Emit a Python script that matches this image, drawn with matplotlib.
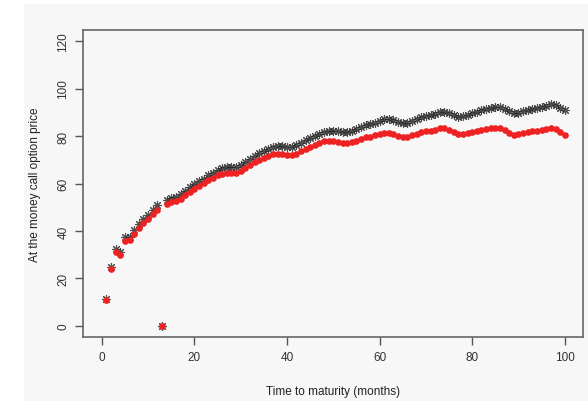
import matplotlib
matplotlib.use("Agg")
import matplotlib.pyplot as plt
from matplotlib.patches import Rectangle

months = list(range(1, 101))

# black asterisks (upper series)
price_black = [11.5, 25.0, 32.3, 31.2, 37.3, 37.5, 40.5, 42.9, 45.0, 46.9,
               48.9, 50.9, 0.0, 53.2, 53.8, 54.4, 55.4, 56.9, 58.4, 59.7,
               61.0, 62.1, 63.5, 64.6, 65.7, 66.5, 66.9, 67.0, 66.9, 67.7,
               69.1, 70.5, 71.7, 72.8, 73.7, 74.5, 75.3, 75.7, 75.6, 75.3,
               75.5, 76.1, 77.1, 78.2, 79.2, 80.1, 81.0, 81.8, 82.3, 82.3,
               82.0, 81.5, 81.5, 82.0, 82.8, 83.7, 84.5, 85.0, 85.6, 86.4,
               87.0, 87.1, 86.8, 86.0, 85.4, 85.7, 86.5, 87.3, 88.0, 88.5,
               88.9, 89.3, 90.0, 90.1, 89.6, 88.7, 88.0, 88.3, 89.0, 89.7,
               90.3, 90.8, 91.3, 91.9, 92.4, 92.2, 91.5, 90.5, 89.6, 89.9,
               90.5, 91.1, 91.5, 91.9, 92.3, 92.8, 93.3, 93.0, 91.9, 90.9]

# red dots (lower series)
price_red = [10.8, 24.0, 31.0, 30.0, 35.8, 36.0, 38.9, 41.2, 43.2, 45.1,
             47.0, 49.0, 0.0, 51.5, 52.0, 52.6, 53.6, 55.0, 56.5, 57.8,
             59.0, 60.1, 61.4, 62.5, 63.5, 64.2, 64.6, 64.6, 64.4, 65.2,
             66.5, 67.9, 69.0, 70.0, 70.9, 71.6, 72.3, 72.6, 72.4, 72.0,
             72.1, 72.6, 73.5, 74.5, 75.4, 76.2, 77.0, 77.7, 78.1, 78.0,
             77.6, 77.0, 76.9, 77.3, 78.0, 78.8, 79.4, 79.8, 80.3, 80.9,
             81.4, 81.4, 81.0, 80.0, 79.4, 79.6, 80.3, 81.0, 81.6, 82.0,
             82.3, 82.6, 83.2, 83.2, 82.6, 81.6, 80.8, 80.8, 81.3, 81.8,
             82.2, 82.5, 82.9, 83.3, 83.5, 83.2, 82.4, 81.4, 80.6, 80.8,
             81.3, 81.8, 82.0, 82.2, 82.5, 82.8, 83.2, 82.8, 81.6, 80.3]

xticks = [0, 20, 40, 60, 80, 100]
yticks = [0, 20, 40, 60, 80, 100, 120]

plt.rcParams['font.family'] = ['Liberation Sans', 'DejaVu Sans']

bg = '#f7f7f7'
fig = plt.figure(figsize=(5.88, 4.02), dpi=100, facecolor='white')
fig.patches.append(Rectangle((24 / 588, 0), 1, 397 / 402, transform=fig.transFigure,
                             facecolor=bg, edgecolor='none', zorder=-10))
ax = fig.add_axes([83.3 / 588, (402 - 338.3) / 402, 500 / 588, 307.6 / 402])
ax.set_facecolor(bg)

ax.plot(months, price_black, linestyle='none', marker=(8, 2, 0), markersize=6.5,
        color='#222222', markeredgewidth=0.8, alpha=0.8)
ax.plot(months, price_red, linestyle='none', marker='o', markersize=4.8,
        color='#ee2222', markeredgewidth=0)

ax.set_xlim(-4, 104)
ax.set_ylim(-4.8, 124.8)
ax.set_xticks(xticks)
ax.set_yticks(yticks)
ax.set_yticklabels([str(v) for v in yticks], rotation=90, va='center')
ax.tick_params(direction='out', length=6, width=1, color='#555555',
               labelsize=8.5, labelcolor='#333333', pad=4)
for s in ax.spines.values():
    s.set_color('#666666')
    s.set_linewidth(1.2)

ax.set_xlabel('Time to maturity (months)', fontsize=8.5, color='#222222', labelpad=16)
ax.set_ylabel('At the money call option price', fontsize=8.5, color='#222222', labelpad=12)

fig.savefig('out.png', dpi=100, facecolor=fig.get_facecolor())
